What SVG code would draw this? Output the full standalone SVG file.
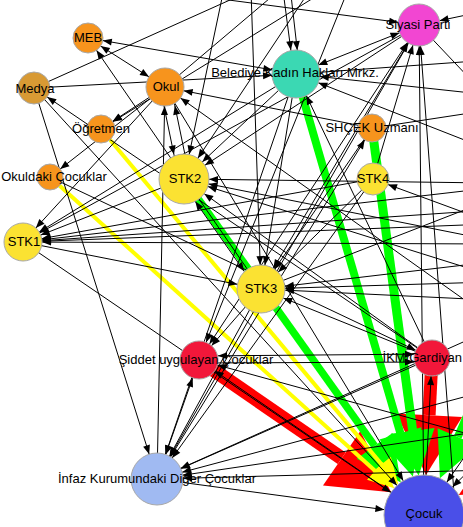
<svg xmlns="http://www.w3.org/2000/svg" width="463" height="527" viewBox="0 0 463 527">
<style>
.e{stroke:#000;stroke-width:1;fill:none}
.n{stroke:#a8a8a8;stroke-width:1}
.t{font-family:"Liberation Sans",Arial,sans-serif;font-size:13px;fill:#000;text-anchor:middle}
.or{fill:#f7941d}.ye{fill:#fbe232}.rd{fill:#f2173a}
</style>
<defs>
<marker id="a13" markerUnits="userSpaceOnUse" markerWidth="10" markerHeight="8" refX="22" refY="0" orient="auto-start-reverse" overflow="visible"><path d="M0,-3.5L9,0L0,3.5z"/></marker>
<marker id="a14" markerUnits="userSpaceOnUse" markerWidth="10" markerHeight="8" refX="23" refY="0" orient="auto-start-reverse" overflow="visible"><path d="M0,-3.5L9,0L0,3.5z"/></marker>
<marker id="a15" markerUnits="userSpaceOnUse" markerWidth="10" markerHeight="8" refX="24" refY="0" orient="auto-start-reverse" overflow="visible"><path d="M0,-3.5L9,0L0,3.5z"/></marker>
<marker id="a16" markerUnits="userSpaceOnUse" markerWidth="10" markerHeight="8" refX="25" refY="0" orient="auto-start-reverse" overflow="visible"><path d="M0,-3.5L9,0L0,3.5z"/></marker>
<marker id="a18" markerUnits="userSpaceOnUse" markerWidth="10" markerHeight="8" refX="27" refY="0" orient="auto-start-reverse" overflow="visible"><path d="M0,-3.5L9,0L0,3.5z"/></marker>
<marker id="a19" markerUnits="userSpaceOnUse" markerWidth="10" markerHeight="8" refX="28" refY="0" orient="auto-start-reverse" overflow="visible"><path d="M0,-3.5L9,0L0,3.5z"/></marker>
<marker id="a21" markerUnits="userSpaceOnUse" markerWidth="10" markerHeight="8" refX="30" refY="0" orient="auto-start-reverse" overflow="visible"><path d="M0,-3.5L9,0L0,3.5z"/></marker>
<marker id="a24" markerUnits="userSpaceOnUse" markerWidth="10" markerHeight="8" refX="33" refY="0" orient="auto-start-reverse" overflow="visible"><path d="M0,-3.5L9,0L0,3.5z"/></marker>
<marker id="a25" markerUnits="userSpaceOnUse" markerWidth="10" markerHeight="8" refX="34" refY="0" orient="auto-start-reverse" overflow="visible"><path d="M0,-3.5L9,0L0,3.5z"/></marker>
<marker id="a26" markerUnits="userSpaceOnUse" markerWidth="10" markerHeight="8" refX="35" refY="0" orient="auto-start-reverse" overflow="visible"><path d="M0,-3.5L9,0L0,3.5z"/></marker>
<marker id="a40" markerUnits="userSpaceOnUse" markerWidth="10" markerHeight="8" refX="49" refY="0" orient="auto-start-reverse" overflow="visible"><path d="M0,-3.5L9,0L0,3.5z"/></marker>
</defs>
<rect width="463" height="527" fill="#fff"/>
<g id="connectors">
<g id="thick">
<path d="M199,360L341.7,458.3" stroke="#f00" stroke-width="14" fill="none"/>
<polygon points="323,485.5 360.4,431.1 391.1,492.3" fill="#f00"/>
<path d="M432,358L429.1,415.2" stroke="#f00" stroke-width="13" fill="none"/>
<polygon points="396.1,413.5 462.1,416.9 426,475.1" fill="#f00"/>
<path d="M520,460L480.4,482.7" stroke="#f00" stroke-width="5" fill="none"/>
<polygon points="474.4,472.3 486.4,493.1 458.7,495.1" fill="#f00"/>
<path d="M296,74L400.4,433.4" stroke="#0f0" stroke-width="8" fill="none"/>
<polygon points="379.3,439.5 421.5,427.3 412.9,476.6" fill="#0f0"/>
<path d="M372,128L412.7,430.8" stroke="#0f0" stroke-width="9" fill="none"/>
<polygon points="390.9,433.7 434.5,427.9 418.7,475.4" fill="#0f0"/>
<path d="M184,179L374.6,445.9" stroke="#0f0" stroke-width="7.5" fill="none"/>
<polygon points="356.7,458.7 392.5,433.1 400.8,482.5" fill="#0f0"/>
<path d="M500,340L457.8,437" stroke="#0f0" stroke-width="8" fill="none"/>
<polygon points="437.6,428.2 478,445.8 439.9,478.3" fill="#0f0"/>
<path d="M101,129L381.6,464.4" stroke="#ff0" stroke-width="4" fill="none"/>
<polygon points="372.4,472.1 390.8,456.7 398.3,484.3" fill="#ff0"/>
<path d="M50,177L375,470.8" stroke="#ff0" stroke-width="4" fill="none"/>
<polygon points="367,479.7 383,461.9 394.3,488.2" fill="#ff0"/>
</g>
<g id="thin">
<path class="e" d="M88,38L165,87" marker-start="url(#a15)" marker-end="url(#a19)"/>
<path class="e" d="M88,38L296,74" marker-start="url(#a15)" marker-end="url(#a24)"/>
<path class="e" d="M261,289L88,38" marker-end="url(#a15)"/>
<path class="e" d="M34,88L319,-40"/>
<path class="e" d="M34,88L296,74" marker-end="url(#a24)"/>
<path class="e" d="M432,358L34,88" marker-end="url(#a16)"/>
<path class="e" d="M34,88L157,479" marker-end="url(#a26)"/>
<path class="e" d="M165,87L101,129" marker-end="url(#a14)"/>
<path class="e" d="M375,-40L101,129" marker-end="url(#a14)"/>
<path class="e" d="M165,87L50,177" marker-end="url(#a13)"/>
<path class="e" d="M165,87L23,242" marker-end="url(#a19)"/>
<path class="e" d="M160,87L179,179" marker-end="url(#a25)"/>
<path class="e" d="M190,179L171,87" marker-end="url(#a19)"/>
<path class="e" d="M490,318L165,87" marker-end="url(#a19)"/>
<path class="e" d="M372,128L165,87" marker-end="url(#a19)"/>
<path class="e" d="M165,87L315,-40"/>
<path class="e" d="M157,479L165,87" marker-end="url(#a19)"/>
<path class="e" d="M296,74L23,242" marker-end="url(#a19)"/>
<path class="e" d="M419,25L23,242" marker-end="url(#a19)"/>
<path class="e" d="M184,179L23,242" marker-end="url(#a19)"/>
<path class="e" d="M373,179L23,242" marker-end="url(#a19)"/>
<path class="e" d="M490,188L23,242" marker-end="url(#a19)"/>
<path class="e" d="M490,210L23,242" marker-end="url(#a19)"/>
<path class="e" d="M490,224L23,242" marker-end="url(#a19)"/>
<path class="e" d="M490,244L23,242" marker-end="url(#a19)"/>
<path class="e" d="M23,242L261,289" marker-end="url(#a24)"/>
<path class="e" d="M181,181L258,291" marker-start="url(#a25)" marker-end="url(#a24)"/>
<path class="e" d="M296,74L419,25" marker-start="url(#a24)" marker-end="url(#a21)"/>
<path class="e" d="M279,-40L294,74" marker-end="url(#a24)"/>
<path class="e" d="M287,-40L300,74" marker-end="url(#a24)"/>
<path class="e" d="M424,515L419,25" marker-end="url(#a21)"/>
<path class="e" d="M459,560L419,25" marker-end="url(#a21)"/>
<path class="e" d="M419,25L184,179" marker-end="url(#a25)"/>
<path class="e" d="M419,25L261,289" marker-start="url(#a21)" marker-end="url(#a24)"/>
<path class="e" d="M419,25L199,360" marker-start="url(#a21)" marker-end="url(#a19)"/>
<path class="e" d="M419,25L157,479" marker-end="url(#a26)"/>
<path class="e" d="M372,128L261,289" marker-end="url(#a24)"/>
<path class="e" d="M372,128L157,479" marker-start="url(#a14)" marker-end="url(#a26)"/>
<path class="e" d="M296,74L184,179" marker-end="url(#a25)"/>
<path class="e" d="M490,183L184,179" marker-end="url(#a25)"/>
<path class="e" d="M490,222L373,179" marker-end="url(#a16)"/>
<path class="e" d="M261,289L199,360" marker-end="url(#a19)"/>
<path class="e" d="M199,356L432,354" marker-start="url(#a19)" marker-end="url(#a18)"/>
<path class="e" d="M199,363L432,362" marker-end="url(#a18)"/>
<path class="e" d="M199,360L157,479" marker-start="url(#a19)" marker-end="url(#a26)"/>
<path class="e" d="M261,289L157,479" marker-end="url(#a26)"/>
<path class="e" d="M424,515L432,358" marker-end="url(#a18)"/>
<path class="e" d="M157,479L424,515" marker-end="url(#a40)"/>
<path class="e" d="M432,358L157,479" marker-end="url(#a26)"/>
<path class="e" d="M373,179L157,479" marker-end="url(#a26)"/>
<path class="e" d="M296,74L157,479" marker-end="url(#a26)"/>
<path class="e" d="M490,330L157,479" marker-end="url(#a26)"/>
<path class="e" d="M490,390L157,479" marker-end="url(#a26)"/>
<path class="e" d="M490,430L157,479" marker-end="url(#a26)"/>
<path class="e" d="M490,470L157,479" marker-end="url(#a26)"/>
<path class="e" d="M490,262L261,289" marker-end="url(#a24)"/>
<path class="e" d="M490,282L261,289" marker-end="url(#a24)"/>
<path class="e" d="M490,300L261,289" marker-end="url(#a24)"/>
<path class="e" d="M432,358L261,289" marker-end="url(#a24)"/>
<path class="e" d="M296,74L261,289" marker-end="url(#a24)"/>
<path class="e" d="M373,179L261,289" marker-end="url(#a24)"/>
<path class="e" d="M165,87L424,515" marker-end="url(#a40)"/>
<path class="e" d="M34,88L424,515" marker-end="url(#a40)"/>
<path class="e" d="M23,242L424,515" marker-end="url(#a40)"/>
<path class="e" d="M230,-40L184,179" marker-end="url(#a25)"/>
<path class="e" d="M250,-40L261,289" marker-end="url(#a24)"/>
<path class="e" d="M330,-40L184,179" marker-end="url(#a25)"/>
<path class="e" d="M360,-40L199,360" marker-end="url(#a19)"/>
<path class="e" d="M0,-30L419,25" marker-end="url(#a21)"/>
<path class="e" d="M296,74L490,60"/>
<path class="e" d="M490,95L296,74" marker-end="url(#a24)"/>
<path class="e" d="M424,515L199,360" marker-end="url(#a19)"/>
<path class="e" d="M490,440L199,360" marker-end="url(#a19)"/>
<path class="e" d="M490,420L424,515" marker-end="url(#a40)"/>
<path class="e" d="M490,450L424,515" marker-end="url(#a40)"/>
<path class="e" d="M490,240L184,179" marker-end="url(#a25)"/>
<path class="e" d="M490,275L184,179" marker-end="url(#a25)"/>
<path class="e" d="M50,177L432,358" marker-end="url(#a18)"/>
<path class="e" d="M490,150L296,74" marker-end="url(#a24)"/>
<path class="e" d="M432,358L296,74" marker-end="url(#a24)"/>
<path class="e" d="M432,358L184,179" marker-end="url(#a25)"/>
<path class="e" d="M419,25L490,100"/>
<path class="e" d="M372,128L490,110"/>
<path class="e" d="M490,10L419,25" marker-end="url(#a21)"/>
<path class="e" d="M373,179L419,25" marker-end="url(#a21)"/>
<path class="e" d="M261,289L490,200"/>
</g>
</g>
<g id="n-meb"><circle class="n or" cx="88" cy="38" r="15"/><text class="t" x="88" y="42">MEB</text></g>
<g id="n-medya"><circle class="n" cx="34" cy="88" r="16" fill="#d89a34"/><text class="t" x="35" y="93">Medya</text></g>
<g id="n-okul"><circle class="n or" cx="165" cy="87" r="19"/><text class="t" x="166" y="91">Okul</text></g>
<g id="n-ogretmen"><circle class="n or" cx="101" cy="129" r="14"/><text class="t" x="101" y="133">Öğretmen</text></g>
<g id="n-okuldaki"><circle class="n or" cx="50" cy="177" r="13"/><text class="t" x="54" y="181">Okuldaki Çocuklar</text></g>
<g id="n-stk2"><circle class="n ye" cx="184" cy="179" r="25"/><text class="t" x="185" y="183">STK2</text></g>
<g id="n-stk1"><circle class="n ye" cx="23" cy="242" r="19"/><text class="t" x="24" y="246">STK1</text></g>
<g id="n-belediye"><circle class="n" cx="296" cy="74" r="24" fill="#3bd8b3"/><text class="t" x="295" y="77">Belediye Kadın Hakları Mrkz.</text></g>
<g id="n-siyasi"><circle class="n" cx="419" cy="25" r="21" fill="#f246d2"/><text class="t" x="418" y="29">Siyasi Parti</text></g>
<g id="n-shcek"><circle class="n or" cx="372" cy="128" r="14"/><text class="t" x="372" y="132">SHÇEK Uzmanı</text></g>
<g id="n-stk4"><circle class="n ye" cx="373" cy="179" r="16"/><text class="t" x="373" y="183">STK4</text></g>
<g id="n-stk3"><circle class="n ye" cx="261" cy="289" r="24"/><text class="t" x="261" y="293">STK3</text></g>
<g id="n-siddet"><circle class="n rd" cx="199" cy="360" r="19"/><text class="t" x="196" y="364">Şiddet uygulayan Çocuklar</text></g>
<g id="n-ikm"><circle class="n rd" cx="432" cy="358" r="18"/><text class="t" x="462" y="362" style="text-anchor:end">İKM/Gardiyan</text></g>
<g id="n-infaz"><circle class="n" cx="157" cy="479" r="26" fill="#a0baf2"/><text class="t" x="157" y="483">İnfaz Kurumundaki Diğer Çocuklar</text></g>
<g id="n-cocuk"><circle class="n" cx="424" cy="515" r="40" fill="#4a4fe8"/><text class="t" x="424" y="518">Çocuk</text></g>
</svg>
